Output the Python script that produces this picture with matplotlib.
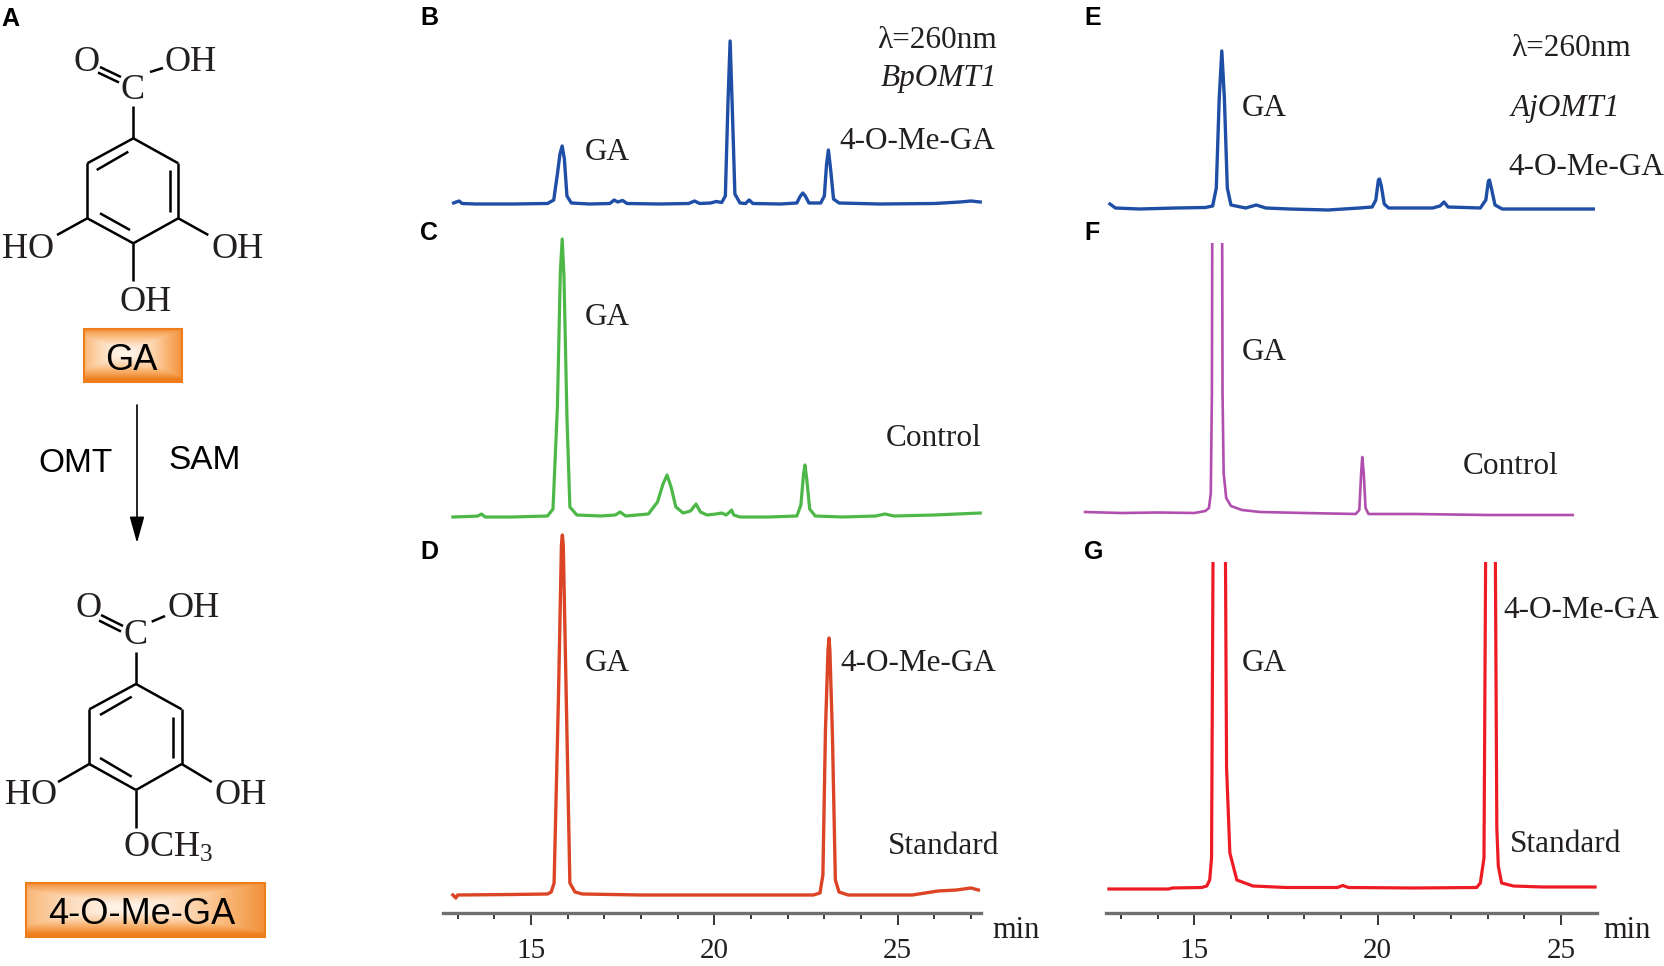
import numpy as np
import matplotlib.pyplot as plt
from matplotlib.patches import Rectangle
from matplotlib.colors import LinearSegmentedColormap

W, H = 1665, 966
SERIF = 'Liberation Serif'
SANS = 'Liberation Sans'
INK = '#231f20'

plt.rcParams['mathtext.fontset'] = 'custom'
plt.rcParams['mathtext.rm'] = SERIF
plt.rcParams['mathtext.it'] = SERIF + ':italic'

# ---- HPLC traces: retention time (min) and signal (a.u.) ----
# B: BpOMT1 reaction
b_time = [12.89, 12.96, 13.04, 13.12, 13.5, 14.5, 15.45, 15.62, 15.72, 15.79,
          15.85, 15.91, 15.98, 16.1, 16.6, 17.15, 17.27, 17.36, 17.5, 17.62,
          18.5, 19.3, 19.46, 19.6, 19.9, 20.05, 20.2, 20.3, 20.37, 20.43,
          20.49, 20.56, 20.7, 20.85, 20.95, 21.05, 21.8, 22.25, 22.33, 22.41,
          22.48, 22.58, 22.9, 23.0, 23.06, 23.11, 23.17, 23.25, 23.4, 24.5,
          26.0, 26.7, 27.0, 27.25]
b_signal = [1, 2, 3, 0.5, 0, 0, 0.5, 4, 30, 50,
            58, 45, 8, 1, 0, 0.5, 4, 2, 3.5, 0.5,
            0, 0.5, 3, 0.5, 1, 2.5, 1.5, 8, 100, 163,
            95, 10, 1, 0.5, 4, 0.5, 0, 1, 7, 11,
            8, 1, 1, 8, 40, 54, 35, 5, 1, 0,
            0.5, 2, 3, 2]

# C: control
c_time = [12.87, 13.3, 13.55, 13.65, 13.75, 14.5, 15.45, 15.6, 15.72, 15.8,
          15.85, 15.9, 15.98, 16.06, 16.25, 16.9, 17.3, 17.43, 17.58, 18.2,
          18.45, 18.6, 18.71, 18.82, 18.95, 19.15, 19.35, 19.5, 19.62, 19.8,
          20.05, 20.2, 20.32, 20.42, 20.47, 20.53, 20.7, 21.5, 22.25, 22.36,
          22.43, 22.47, 22.52, 22.6, 22.75, 23.5, 24.4, 24.65, 24.9, 26.0,
          27.25]
c_signal = [0, 0.5, 1, 3, 0, 0, 1, 8, 110, 245,
            278, 240, 100, 10, 2, 1, 2, 5, 1, 3,
            15, 33, 42, 30, 10, 4, 6, 13, 5, 2,
            3, 4, 2, 5, 7, 2, 0, 0, 1, 12,
            42, 52, 38, 8, 1, 0, 1, 3, 1, 2,
            4]

# D: standards
d_time = [12.87, 12.95, 13.0, 14.5, 15.45, 15.55, 15.63, 15.75, 15.83, 15.855,
          15.88, 15.96, 16.06, 16.2, 16.4, 18.0, 22.7, 22.88, 22.96, 23.03,
          23.1, 23.127, 23.15, 23.22, 23.3, 23.4, 23.65, 25.4, 25.75, 26.1,
          26.6, 27.0, 27.2]
d_signal = [0, -3, 0, 0.5, 1, 3, 12, 200, 350, 360,
            350, 200, 12, 3, 1, 0, 0, 2, 20, 165,
            245, 257, 245, 160, 15, 3, 0, 0, 2, 4,
            5, 7, 5]

# E: AjOMT1 reaction
e_time = [12.7, 12.85, 13.5, 14.5, 15.3, 15.5, 15.6, 15.68, 15.75, 15.82,
          15.9, 16.0, 16.4, 16.69, 16.95, 17.6, 18.65, 19.5, 19.85, 19.95,
          20.02, 20.05, 20.1, 20.18, 20.3, 21.5, 21.7, 21.81, 21.92, 22.8,
          22.95, 23.02, 23.05, 23.1, 23.2, 23.4, 24.5, 25.88]
e_signal = [4, 0, -1, 0, 0.5, 2, 20, 110, 157, 110,
            20, 3, 0, 3, 0, -1, -2, 0, 1, 8,
            28, 29, 22, 4, 0, 0, 2, 6, 1, 0,
            8, 27, 28, 20, 3, -1, -1, -1]

# F: control (GA off scale)
f_time = [12.02, 13.0, 14.0, 15.0, 15.3, 15.4, 15.45, 15.48, 15.51, 15.62,
          15.74, 15.77, 15.8, 15.87, 16.0, 16.3, 16.8, 18.0, 19.4, 19.5,
          19.55, 19.58, 19.62, 19.67, 19.75, 21.0, 23.0, 25.32]
f_signal = [1, 0, 0.5, 0, 2, 5, 20, 120, 600, 1500,
            600, 120, 40, 15, 7, 3, 1, 0, -1, 3,
            40, 56, 40, 5, -1, -1, -2, -2]

# G: standards (both peaks off scale)
g_time = [12.67, 13.5, 14.3, 14.4, 15.2, 15.34, 15.42, 15.47, 15.52, 15.68,
          15.84, 15.88, 15.97, 16.16, 16.6, 17.5, 18.9, 19.05, 19.2, 21.0,
          22.7, 22.8, 22.9, 22.955, 23.08, 23.2, 23.25, 23.29, 23.38, 23.7,
          24.5, 25.93]
g_signal = [-1, -1, -1, 0, 0.5, 2, 8, 30, 400, 1200,
            400, 120, 35, 8, 2, 0.5, 0.5, 2.5, 0.5, 0,
            0.5, 5, 30, 400, 1200, 400, 60, 22, 5, 2,
            1, 1]

major_ticks = [15, 20, 25]
left_minor = list(range(13, 28))
right_minor = list(range(13, 26))

# pixel of the 15 min tick and pixels per minute, per column
LEFT_COL = (531.0, 36.67)
RIGHT_COL = (1194.3, 36.67)

fig = plt.figure(figsize=(W / 100, H / 100), dpi=100)


def panel(col, box, base):
    l, t, r, b = box
    ax = fig.add_axes([l / W, 1 - b / H, (r - l) / W, (b - t) / H])
    p15, s = col
    ax.set_xlim(15 + (l - p15) / s, 15 + (r - p15) / s)
    ax.set_ylim(-(b - base), base - t)
    ax.patch.set_alpha(0)
    for sp in ax.spines.values():
        sp.set_visible(False)
    ax.set_xticks([])
    ax.set_yticks([])
    return ax


def time_axis(ax, minor):
    sp = ax.spines['bottom']
    sp.set_visible(True)
    sp.set_color('#707070')
    sp.set_linewidth(2.4)
    ax.set_xticks(major_ticks)
    ax.set_xticks(minor, minor=True)
    ax.tick_params(axis='x', which='major', direction='out', length=8.5, width=1.1,
                   color='k', pad=9.5, labelsize=21, labelcolor=INK)
    ax.tick_params(axis='x', which='minor', direction='out', length=4.3, width=1.1, color='k')
    for lab in ax.get_xticklabels():
        lab.set_family(SERIF)


traces = [
    (b_time, b_signal, '#1f4ea6', 2.4, LEFT_COL, (440, 20, 1000, 225), 204),
    (c_time, c_signal, '#4db848', 2.3, LEFT_COL, (440, 225, 1000, 530), 517),
    (d_time, d_signal, '#dc4426', 2.4, LEFT_COL, (443, 520, 981, 913), 895),
    (e_time, e_signal, '#1f4ea6', 2.4, RIGHT_COL, (1075, 20, 1610, 225), 208),
    (f_time, f_signal, '#b04fae', 1.9, RIGHT_COL, (1075, 243, 1610, 530), 513),
    (g_time, g_signal, '#ed1c24', 2.3, RIGHT_COL, (1106, 562, 1597, 913), 888),
]
axes = []
for tm, sig, colr, lw, col, box, base in traces:
    ax = panel(col, box, base)
    ax.plot(tm, sig, color=colr, lw=lw, solid_joinstyle='round')
    axes.append(ax)
time_axis(axes[2], left_minor)
time_axis(axes[5], right_minor)

# ---- overlay in pixel coordinates for structures and labels ----
ov = fig.add_axes([0, 0, 1, 1])
ov.set_axis_off()
ov.patch.set_alpha(0)
ov.set_autoscale_on(False)
ov.set_xlim(0, W)
ov.set_ylim(H, 0)


def label(x, yc, s, size=22.5, ha='left', family=SERIF, cap=0.662, **kw):
    y = yc + cap * size * 100 / 72 / 2
    ov.text(x, y, s, fontsize=size, ha=ha, va='baseline', family=family,
            color=kw.pop('color', INK), **kw)


def bond(x0, y0, x1, y1):
    ov.plot([x0, x1], [y0, y1], color='k', lw=1.8, solid_capstyle='butt')


def molecule(ring, inner):
    for i in range(6):
        x0, y0 = ring[i]
        x1, y1 = ring[(i + 1) % 6]
        bond(x0, y0, x1, y1)
    for x0, y0, x1, y1 in inner:
        bond(x0, y0, x1, y1)


# gallic acid
ring1 = [(133.3, 138.3), (178.3, 163.3), (178.3, 218.3), (133.3, 243.3), (87.3, 218.3), (87.3, 163.3)]
inner1 = [(96.7, 170, 128.3, 151.7), (170, 170, 170, 211.7), (100, 213.3, 130, 230)]
molecule(ring1, inner1)
bond(133.3, 106, 133.3, 138.3)
bond(100, 67, 121, 77)
bond(98, 72.5, 119, 82.5)
bond(150, 72, 163, 68)
bond(87.3, 218.3, 57, 235)
bond(178.3, 218.3, 208.3, 235)
bond(133.3, 243.3, 133.3, 281)
label(86.7, 59, 'O', size=26, ha='center')
label(165, 59, 'OH', size=26)
label(132.8, 87, 'C', size=26, ha='center')
label(2, 246, 'HO', size=26)
label(212, 246, 'OH', size=26)
label(120, 299, 'OH', size=26)

# 4-O-methyl gallic acid
ring2 = [(136, 684), (181.7, 709.3), (181.7, 764), (136, 790), (89.3, 764), (89.3, 709.3)]
inner2 = [(100, 715, 131.7, 696.7), (172.7, 716.7, 172.7, 758.3), (100, 758, 131.7, 776.7)]
molecule(ring2, inner2)
bond(136, 651.7, 136, 684)
bond(101, 615, 123, 626)
bond(99, 620.5, 121, 631.5)
bond(151.7, 621.7, 165, 616)
bond(89.3, 764, 58, 782)
bond(181.7, 764, 211.7, 782)
bond(136, 790, 136, 828)
label(88.3, 605, 'O', size=26, ha='center')
label(168, 605, 'OH', size=26)
label(135.8, 632.5, 'C', size=26, ha='center')
label(5, 792.5, 'HO', size=26)
label(215, 792.5, 'OH', size=26)
label(123, 845, 'OCH$_3$', size=26)

# orange name boxes
box_cmap = LinearSegmentedColormap.from_list('box', ['#fff4ea', '#f9b777', '#ef7f1e'])
gx, gy = np.meshgrid(np.linspace(0, 1, 240), np.linspace(0, 1, 80))
shade = np.clip(np.maximum(np.abs(gx - 0.42) * 1.55, np.abs(gy - 0.45) * 2.0), 0, 1) ** 1.6
for x0, y0, x1, y1, name, cx, cy in [(84, 329, 182, 382, 'GA', 131.5, 357.5),
                                     (26, 883, 265, 937, '4-O-Me-GA', 142, 911)]:
    ov.imshow(shade, extent=(x0, x1, y1, y0), cmap=box_cmap, aspect='auto',
              vmin=0, vmax=1, zorder=1, interpolation='bilinear')
    ov.add_patch(Rectangle((x0, y0), x1 - x0, y1 - y0, fill=False,
                           edgecolor='#ee7d1c', lw=1.5, zorder=2))
    label(cx, cy, name, size=26, ha='center', family=SANS, cap=0.716, zorder=3, color='k')

# reaction arrow
ov.annotate('', xy=(137, 543), xytext=(137, 405),
            arrowprops=dict(arrowstyle='-|>,head_length=0.9,head_width=0.25',
                            color='k', lw=1.2, mutation_scale=18, shrinkA=0, shrinkB=0))
label(76, 460, 'OMT', size=24, ha='center', family=SANS, cap=0.716, color='k')
label(204.5, 457, 'SAM', size=24, ha='center', family=SANS, cap=0.716, color='k')

# panel letters
for x, yc, s in [(1, 17, 'A'), (420, 16, 'B'), (420, 231, 'C'), (420, 550, 'D'),
                 (1084, 16, 'E'), (1084, 231, 'F'), (1084, 550, 'G')]:
    label(x, yc, s, size=18, family=SANS, cap=0.716, weight='bold', color='k')

# chromatogram annotations
label(997, 38, 'λ=260nm', ha='right')
label(997, 76, 'BpOMT1', ha='right', style='italic')
label(585, 150, 'GA')
label(839, 139, '4-O-Me-GA')
label(585, 315, 'GA')
label(886, 436, 'Control')
label(585, 661, 'GA')
label(840, 661, '4-O-Me-GA')
label(888, 844, 'Standard')

label(1511, 45.6, 'λ=260nm')
label(1511, 106, 'AjOMT1', style='italic')
label(1242, 106, 'GA')
label(1508, 164.5, '4-O-Me-GA')
label(1242, 350, 'GA')
label(1463, 464, 'Control')
label(1242, 661, 'GA')
label(1503, 608, '4-O-Me-GA')
label(1510, 842, 'Standard')

ov.text(992, 938, 'min', fontsize=22, family=SERIF, color=INK, va='baseline')
ov.text(1603, 938, 'min', fontsize=22, family=SERIF, color=INK, va='baseline')

fig.savefig('out.png', dpi=100)
